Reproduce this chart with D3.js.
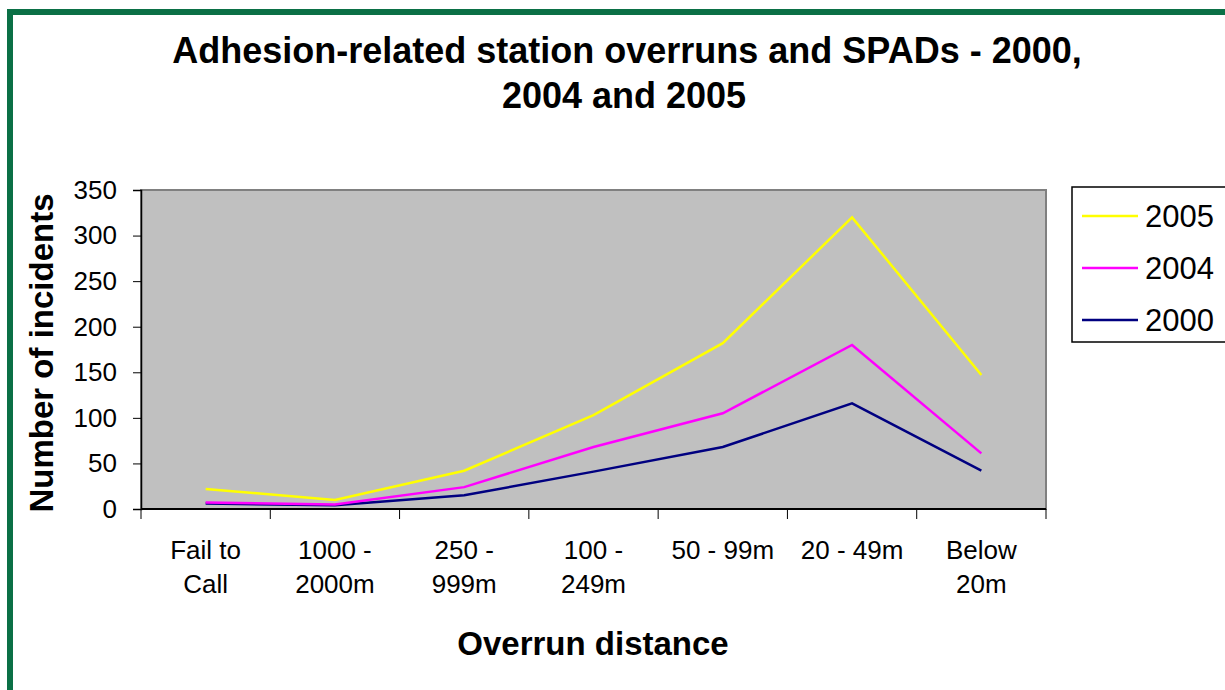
<!DOCTYPE html>
<html>
<head>
  <meta charset="utf-8">
  <title>Adhesion-related station overruns and SPADs</title>
  <style>
    body { margin: 0; background: #fff; }
    text { font-family: "Liberation Sans", Arial, sans-serif; }
  </style>
</head>
<body>
<script src="https://cdnjs.cloudflare.com/ajax/libs/d3/7.8.5/d3.min.js"></script>
<div id="vis"></div>
<script>

var categories = [
  ["Fail to", "Call"],
  ["1000 -", "2000m"],
  ["250 -", "999m"],
  ["100 -", "249m"],
  ["50 - 99m"],
  ["20 - 49m"],
  ["Below", "20m"]
];
var years = ["2005", "2004", "2000"];
var v2005 = [22, 10, 42, 103, 182, 320, 147];
var v2004 = [7, 5, 24, 68, 105, 180, 61];
var v2000 = [6, 4, 15, 41, 68, 116, 42];
var yTicks = [0, 50, 100, 150, 200, 250, 300, 350];
var colors = ["#ffff00", "#ff00ff", "#000080"];

var series = [v2005, v2004, v2000];

var W = 1225, H = 690;
// plot box (don't call these top/left: window.top is read-only)
var pL = 141, pR = 1046, pT = 190, pB = 509;

var svg = d3.select("div#vis").append("svg")
  .attr("width", W)
  .attr("height", H);

// green frame (only top + left show)
svg.append("line").attr("x1", 7).attr("x2", W).attr("y1", 12).attr("y2", 12)
  .attr("stroke", "#0b7046").attr("stroke-width", 6);
svg.append("line").attr("x1", 10).attr("x2", 10).attr("y1", 9).attr("y2", H)
  .attr("stroke", "#0b7046").attr("stroke-width", 6);

var x = d3.scaleBand()
  .domain(d3.range(categories.length))
  .range([pL, pR]);

var y = d3.scaleLinear()
  .domain([0, 350])
  .range([pB, pT]);

// plot area
svg.append("rect")
  .attr("x", pL).attr("y", pT)
  .attr("width", pR - pL).attr("height", pB - pT)
  .attr("fill", "#c0c0c0")
  .attr("stroke", "#808080").attr("stroke-width", 2);

// y axis
var yAxis = svg.append("g")
  .attr("transform", "translate(" + pL + ",0)")
  .call(d3.axisLeft(y).tickValues(yTicks).tickSize(8).tickPadding(16));
yAxis.select(".domain").attr("stroke", "#000").attr("stroke-width", 1.5);
yAxis.selectAll(".tick line").attr("stroke", "#000");
yAxis.selectAll(".tick text")
  .attr("font-family", "Liberation Sans, Arial, sans-serif")
  .attr("font-size", 26).attr("fill", "#000");

// x axis, ticks sit on category boundaries
var xAxis = svg.append("g")
  .attr("transform", "translate(0," + pB + ")");
xAxis.append("line")
  .attr("x1", pL).attr("x2", pR)
  .attr("stroke", "#000").attr("stroke-width", 2);
var bounds = d3.range(categories.length + 1).map(function(i) {
  return i < categories.length ? x(i) : x(i - 1) + x.bandwidth();
});
xAxis.selectAll("line.tk").data(bounds).enter().append("line")
  .attr("class", "tk")
  .attr("x1", function(d) { return d; }).attr("x2", function(d) { return d; })
  .attr("y1", 0).attr("y2", 10)
  .attr("stroke", "#000");

var lbl = svg.selectAll("text.cat").data(categories).enter().append("text")
  .attr("class", "cat")
  .attr("text-anchor", "middle")
  .attr("font-size", 26)
  .attr("fill", "#000");
lbl.selectAll("tspan").data(function(d, i) {
    return d.map(function(s) { return { s: s, i: i }; });
  }).enter().append("tspan")
  .attr("x", function(d) { return x(d.i) + x.bandwidth() / 2; })
  .attr("y", function(d, j) { return 559 + j * 34; })
  .text(function(d) { return d.s; });

// lines, 2000 drawn first so 2005 ends up on top
var line = d3.line()
  .x(function(d, i) { return x(i) + x.bandwidth() / 2; })
  .y(function(d) { return y(d); });

for (var k = series.length - 1; k >= 0; k--) {
  svg.append("path")
    .datum(series[k])
    .attr("d", line)
    .attr("fill", "none")
    .attr("stroke", colors[k])
    .attr("stroke-width", 2.5);
}

// title
svg.append("text")
  .attr("x", 627).attr("y", 63)
  .attr("text-anchor", "middle")
  .attr("font-size", 36).attr("font-weight", "bold")
  .text("Adhesion-related station overruns and SPADs - 2000,");
svg.append("text")
  .attr("x", 624).attr("y", 108)
  .attr("text-anchor", "middle")
  .attr("font-size", 36).attr("font-weight", "bold")
  .text("2004 and 2005");

// axis titles
svg.append("text")
  .attr("transform", "translate(53,353) rotate(-90)")
  .attr("text-anchor", "middle")
  .attr("font-size", 33).attr("font-weight", "bold")
  .text("Number of incidents");
svg.append("text")
  .attr("x", 593).attr("y", 655)
  .attr("text-anchor", "middle")
  .attr("font-size", 33).attr("font-weight", "bold")
  .text("Overrun distance");

// legend
var lg = svg.append("g");
lg.append("rect")
  .attr("x", 1072).attr("y", 187)
  .attr("width", 160).attr("height", 155)
  .attr("fill", "#fff").attr("stroke", "#000").attr("stroke-width", 1.5);
years.forEach(function(yr, i) {
  var ly = 216 + i * 52;
  lg.append("line")
    .attr("x1", 1082).attr("x2", 1138)
    .attr("y1", ly).attr("y2", ly)
    .attr("stroke", colors[i]).attr("stroke-width", 2.5);
  lg.append("text")
    .attr("x", 1145).attr("y", ly + 11)
    .attr("font-size", 31)
    .text(yr);
});

</script>
</body>
</html>
